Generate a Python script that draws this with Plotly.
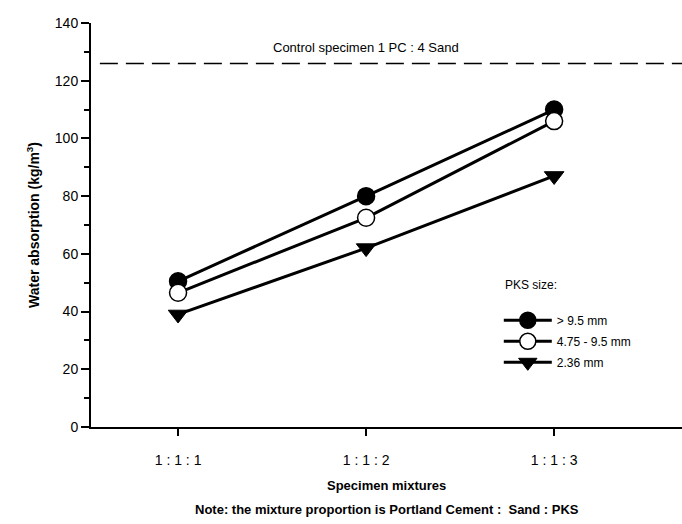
import plotly.graph_objects as go

categories = ["1 : 1 : 1", "1 : 1 : 2", "1 : 1 : 3"]
large = [50.5, 80, 110]
medium = [46.5, 72.5, 106]
small = [39, 62, 87]
control = 126
series_names = ["> 9.5 mm", "4.75 - 9.5 mm", "2.36 mm"]

FONT = "Liberation Sans, Arial, sans-serif"

fig = go.Figure()
styles = [
    dict(symbol="circle", color="black", line=dict(color="black", width=1.5)),
    dict(symbol="circle", color="white", line=dict(color="black", width=1.5)),
    dict(symbol="triangle-down", color="black", line=dict(color="black", width=1)),
]
for i, (name, vals, st) in enumerate(zip(series_names, [large, medium, small], styles)):
    fig.add_trace(go.Scatter(
        x=[0, 1, 2], y=vals, name=name, mode="lines+markers", legendgroup=f"g{i}",
        line=dict(color="black", width=3),
        marker=dict(size=17, symbol=st["symbol"], color=st["color"], line=st["line"]),
    ))

fig.add_shape(type="line", xref="paper", yref="y", x0=0.015, x1=1, y0=control, y1=control,
              line=dict(color="black", width=1.5, dash="18px,8px"))
fig.add_annotation(x=1, y=control, xref="x", yref="y", text="Control specimen 1 PC : 4 Sand",
                   showarrow=False, yshift=16, font=dict(family=FONT, size=13, color="black"))
fig.add_annotation(x=0.5, y=-0.1436, xref="paper", yref="paper", yanchor="middle",
                   text="<b>Specimen mixtures</b>",
                   showarrow=False, font=dict(family=FONT, size=13, color="black"))
fig.add_annotation(x=0.5, y=-0.205, xref="paper", yref="paper", yanchor="middle",
                   text="<b>Note: the mixture proportion is Portland Cement :  Sand : PKS</b>",
                   showarrow=False, font=dict(family=FONT, size=13, color="black"))
fig.add_annotation(x=0.697, y=(427 - 285) / 404, xref="paper", yref="paper",
                   xanchor="left", yanchor="middle", text="PKS size:",
                   showarrow=False, font=dict(family=FONT, size=12, color="black"))

fig.update_layout(
    width=682, height=524,
    margin=dict(l=91, r=0, t=23, b=97),
    paper_bgcolor="white", plot_bgcolor="white",
    font=dict(family=FONT, size=13, color="black"),
    showlegend=True,
    legend=dict(x=0.69, y=0.30, xanchor="left", yanchor="top", itemwidth=48,
                font=dict(size=12, family=FONT, color="black"), bgcolor="rgba(0,0,0,0)",
                tracegroupgap=2),
    xaxis=dict(range=[-0.463, 2.68], tickvals=[0, 1, 2], ticktext=categories,
               showgrid=False, zeroline=False, showline=True, linecolor="black", linewidth=2,
               ticks="outside", ticklen=7, tickwidth=2, tickcolor="black",
               ticklabelstandoff=12,
               tickfont=dict(size=14, family=FONT, color="black")),
    yaxis=dict(range=[0, 140], tickvals=list(range(0, 141, 20)),
               showgrid=False, zeroline=False, showline=True, linecolor="black", linewidth=2,
               ticks="outside", ticklen=8, tickwidth=2, tickcolor="black",
               minor=dict(tickvals=list(range(10, 140, 20)), ticks="outside", ticklen=5,
                          tickwidth=1.5, tickcolor="black"),
               title=dict(text="<b>Water absorption (kg/m<sup>3</sup>)</b>",
                          font=dict(size=14, family=FONT, color="black"),
                          standoff=12),
               tickfont=dict(size=14, family=FONT, color="black")),
)

fig.write_html("out.html")
